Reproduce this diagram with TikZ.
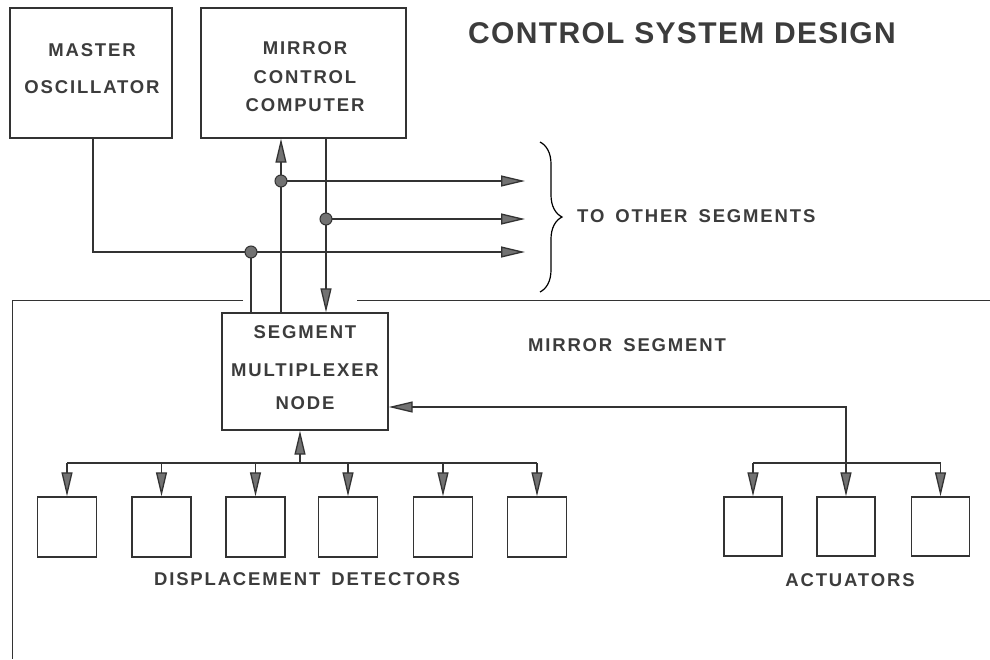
\documentclass[tikz,border=0pt]{standalone}
\usepackage{fontspec}
\newfontfamily\labfont[LetterSpace=10]{Liberation Sans}
\newfontfamily\ttlfont[LetterSpace=4.5]{Liberation Sans}
\usetikzlibrary{arrows.meta,decorations.pathreplacing}
\definecolor{linec}{HTML}{333333}
\definecolor{tipfill}{HTML}{727272}
\definecolor{textc}{HTML}{3C3C3C}
\newcommand{\labstyle}{\labfont\bfseries\fontsize{18.5}{20}\selectfont\spaceskip=11pt\relax}
\tikzset{
  boxnode/.style={draw=linec, line width=1.4pt, fill=white, inner sep=0pt},
  lab/.style={text=textc, font={\labstyle}, inner sep=0pt},
  ttl/.style={text=textc, font=\ttlfont\bfseries\fontsize{30}{33}\selectfont, inner sep=0pt},
  conn/.style={draw=linec, line width=1.3pt},
  tipped/.style={conn, -{Triangle[length=24pt,width=11pt,fill=tipfill]}},
  jdot/.style={circle, draw=linec, line width=1pt, fill=tipfill, minimum size=12pt, inner sep=0pt},
  border/.style={draw=linec, line width=1pt},
  bracepath/.style={draw=black, line width=1.2pt, decorate, decoration={brace, amplitude=22pt}},
  detbox/.style={boxnode, minimum width=59pt, minimum height=60pt}
}
\begin{document}
\begin{tikzpicture}[x=1pt,y=-1pt]
\useasboundingbox (0,0) rectangle (990,659);
\fill[white] (0,0) rectangle (990,659);

% top boxes
\node[boxnode, minimum width=162pt, minimum height=130pt] (mo) at (91,73) {};
\node[lab] (mo1) at (92,50) {MASTER};
\node[lab] (mo2) at (92,87) {OSCILLATOR};

\node[boxnode, minimum width=205pt, minimum height=130pt] (mcc) at (303.5,73) {};
\node[lab] (mcc1) at (305,48.5) {MIRROR};
\node[lab] (mcc2) at (305,77.5) {CONTROL};
\node[lab] (mcc3) at (305,105.5) {COMPUTER};

\node[ttl] (title) at (682,33.5) {CONTROL SYSTEM DESIGN};

% mirror segment boundary
\coordinate (bL) at (12,300);
\coordinate (bG1) at (243,300);
\coordinate (bG2) at (357,300);
\coordinate (bR) at (990,300);
\coordinate (bB) at (12,659);
\draw[border] (bG1) -- (bL) -- (bB);
\draw[border] (bG2) -- (bR);

% multiplexer
\node[boxnode, minimum width=166pt, minimum height=117pt] (mux) at (305,371.5) {};
\node[lab] (mux1) at (305,332) {SEGMENT};
\node[lab] (mux2) at (305,370) {MULTIPLEXER};
\node[lab] (mux3) at (305,403) {NODE};

\node[lab] (segl) at (627,345) {MIRROR SEGMENT};

% junctions and outputs
\coordinate (j1) at (281,181);
\coordinate (j2) at (326,219);
\coordinate (j3) at (251,252);
\coordinate (o1) at (525,181);
\coordinate (o2) at (525,219);
\coordinate (o3) at (525,252);
\coordinate (mox) at (93,0);

\draw[tipped] (mo.south -| mox) |- (o3);
\draw[conn] (j3) -- (j3 |- mux.north);
\draw[tipped] (mux.north -| j1) -- (j1 |- mcc.south);
\draw[tipped] (j1) -- (o1);
\draw[tipped] (mcc.south -| j2) -- (j2 |- mux.north);
\draw[tipped] (j2) -- (o2);
\node[jdot] (d1) at (j1) {};
\node[jdot] (d2) at (j2) {};
\node[jdot] (d3) at (j3) {};

% brace
\coordinate (brT) at (540,142);
\coordinate (brB) at (540,292);
\draw[bracepath] (brT) -- (brB);
\node[lab, anchor=west] (other) at (577,216) {TO OTHER SEGMENTS};

% detectors
\foreach \i/\x in {1/67,2/161.5,3/255.5,4/348,5/443,6/537} {
  \node[detbox] (det\i) at (\x,527) {};
}
\coordinate (busy) at (0,463);
\coordinate (muxin) at (300,463);
\draw[conn] (det1.north |- busy) -- (det6.north |- busy);
\foreach \i in {1,...,6} {
  \draw[tipped] (det\i.north |- busy) -- (det\i.north);
}
\draw[tipped] (muxin) -- (muxin |- mux.south);
\node[lab] (detl) at (307,579) {DISPLACEMENT DETECTORS};

% actuators
\foreach \i/\x in {1/753,2/846,3/940.5} {
  \node[detbox, minimum width=58pt, minimum height=59pt] (act\i) at (\x,526.5) {};
}
\coordinate (aiy) at (0,407);
\draw[conn] (act1.north |- busy) -- (act3.north |- busy);
\foreach \i in {1,2,3} {
  \draw[tipped] (act\i.north |- busy) -- (act\i.north);
}
\draw[tipped] (act2.north |- busy) |- (mux.east |- aiy);
\node[lab] (actl) at (850,580) {ACTUATORS};
\end{tikzpicture}
\end{document}
